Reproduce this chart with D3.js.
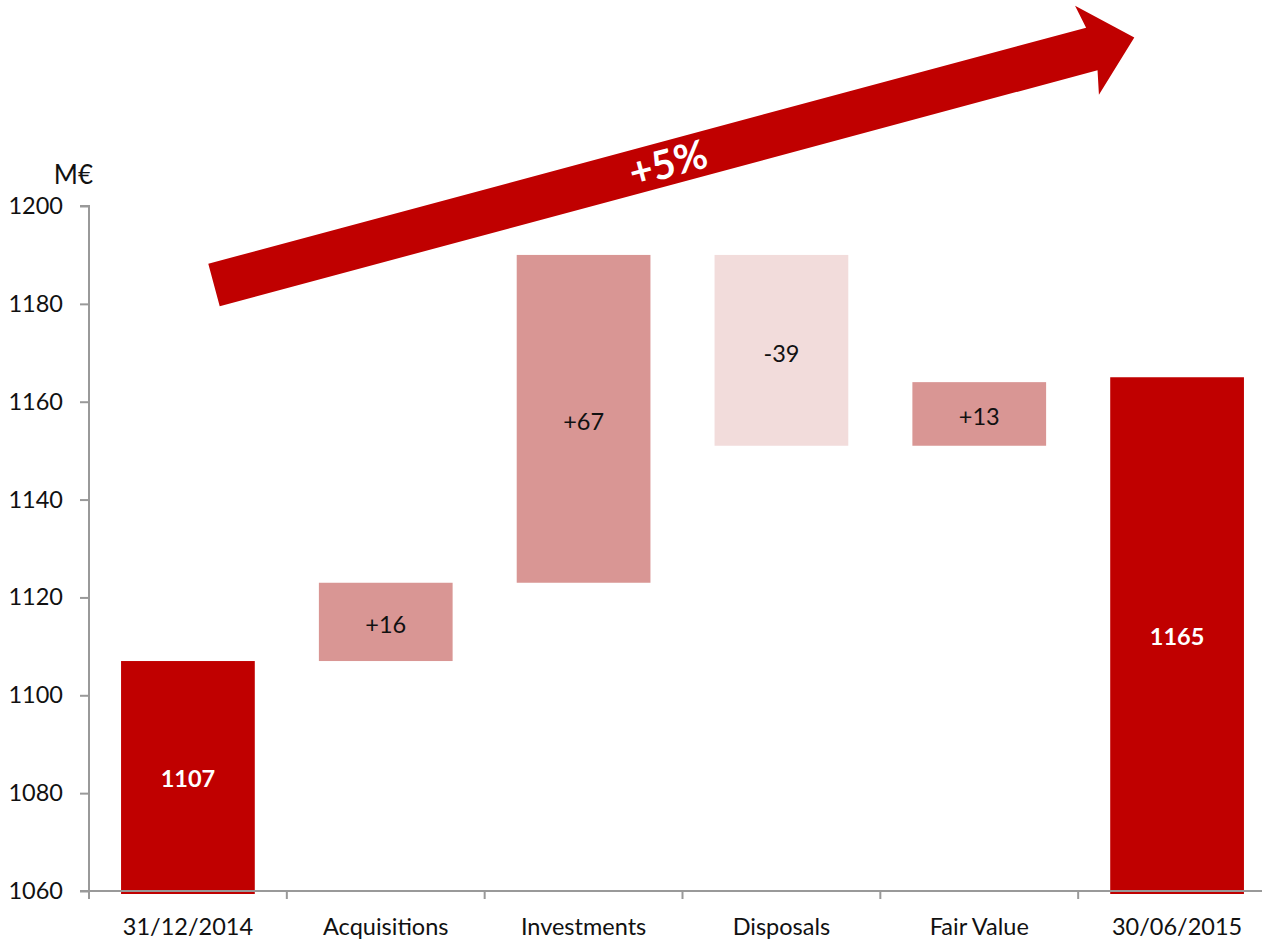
<!DOCTYPE html>
<html>
<head>
<meta charset="utf-8">
<script src="https://cdn.jsdelivr.net/npm/d3@7"></script>
<style>
  html, body { margin: 0; padding: 0; background: #fff; }
  svg { display: block; font-family: Lato, "Open Sans", sans-serif; }
</style>
</head>
<body>
<svg id="chart" width="1262" height="941"></svg>
<script>
// Waterfall: portfolio value bridge (M€)
const categories = ["31/12/2014", "Acquisitions", "Investments", "Disposals", "Fair Value", "30/06/2015"];
const kinds      = ["total", "delta", "delta", "delta", "delta", "total"];
const values     = [1107, 16, 67, -39, 13, 1165];
const yTicks     = [1060, 1080, 1100, 1120, 1140, 1160, 1180, 1200];
const growthLabel = "+5%";

const colors = { total: "#C00000", up: "#D99694", down: "#F2DCDB" };
const fontSize = 23.5;

// Build the floating segments
let running = 0;
const bars = categories.map((c, i) => {
  const v = values[i];
  if (kinds[i] === "total") {
    running = v;
    return { cat: c, y0: 1060, y1: v, label: String(v), kind: "total" };
  }
  const start = running;
  running += v;
  return {
    cat: c, y0: Math.min(start, running), y1: Math.max(start, running),
    label: (v > 0 ? "+" : "") + v, kind: v >= 0 ? "up" : "down"
  };
});

const svg = d3.select("#chart");

const x = d3.scaleBand().domain(categories).range([89, 1276])
  .paddingInner(0.324).paddingOuter(0.162);
const y = d3.scaleLinear().domain([1060, 1200]).range([891, 206]);

const axisColor = "#999";

// Bars
svg.append("g").selectAll("rect").data(bars).join("rect")
  .attr("x", d => x(d.cat))
  .attr("width", x.bandwidth())
  .attr("y", d => y(d.y1))
  .attr("height", d => y(d.y0) - y(d.y1) + (d.kind === "total" ? 3 : 0))
  .attr("fill", d => colors[d.kind]);

// Value labels
svg.append("g").selectAll("text").data(bars).join("text")
  .attr("x", d => x(d.cat) + x.bandwidth() / 2)
  .attr("y", d => (y(d.y0) + y(d.y1)) / 2 + 3)
  .attr("dy", "0.35em")
  .attr("text-anchor", "middle")
  .attr("font-size", fontSize)
  .attr("font-weight", d => d.kind === "total" ? "bold" : "normal")
  .attr("fill", d => d.kind === "total" ? "#fff" : "#111")
  .text(d => d.label);

// Y axis
const yAxis = svg.append("g").attr("transform", "translate(89,0)")
  .call(d3.axisLeft(y).tickValues(yTicks).tickSize(9).tickPadding(17).tickFormat(d3.format("d")));
yAxis.select(".domain").attr("stroke", axisColor).attr("stroke-width", 2).attr("d", `M-9,${y(1200)}H0V${y(1060)}`);
yAxis.selectAll(".tick line").attr("stroke", axisColor).attr("stroke-width", 2);
yAxis.selectAll(".tick text").attr("font-size", fontSize).attr("fill", "#111").attr("font-family", "Lato, sans-serif");

// X axis with ticks at category boundaries
const xg = svg.append("g").attr("transform", `translate(0,${y(1060)})`);
xg.append("line").attr("x1", 80).attr("x2", 1276).attr("y1", 0).attr("y2", 0)
  .attr("stroke", axisColor).attr("stroke-width", 2);
const step = x.step();
const boundaries = d3.range(categories.length + 1).map(i => 89 + i * step);
xg.selectAll("line.tk").data(boundaries).join("line").attr("class", "tk")
  .attr("x1", d => d).attr("x2", d => d).attr("y1", 0).attr("y2", 8)
  .attr("stroke", axisColor).attr("stroke-width", 2);
xg.selectAll("text").data(categories).join("text")
  .attr("x", d => x(d) + x.bandwidth() / 2)
  .attr("y", 44)
  .attr("text-anchor", "middle")
  .attr("font-size", fontSize)
  .attr("fill", "#111")
  .text(d => d);

// Unit label
svg.append("text").attr("x", 93).attr("y", 184).attr("text-anchor", "end")
  .attr("font-size", 26).attr("fill", "#111").text("M€");

// Growth arrow across the top
const ang = -15.05;
const ax0 = 214, ay0 = 285;            // tail midpoint
const shaftLen = 909, shaftHalf = 22, headHalf = 46, headLen = 44;
const g = svg.append("g").attr("transform", `translate(${ax0},${ay0}) rotate(${ang})`);
g.append("path")
  .attr("d", d3.line()([
    [0, -shaftHalf], [shaftLen, -shaftHalf], [shaftLen - 5, -headHalf],
    [shaftLen + headLen, 0],
    [shaftLen - 5, headHalf], [shaftLen, shaftHalf], [0, shaftHalf]
  ]) + "Z")
  .attr("fill", "#C00000");
g.append("text")
  .attr("x", 470).attr("y", 0).attr("dy", "0.36em")
  .attr("text-anchor", "middle")
  .attr("font-size", 40).attr("font-weight", "bold")
  .attr("fill", "#fff")
  .text(growthLabel);
</script>
</body>
</html>
